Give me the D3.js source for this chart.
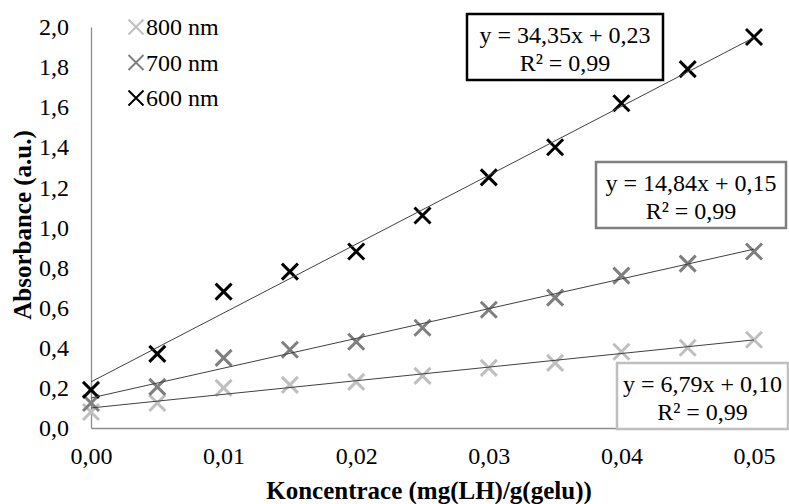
<!DOCTYPE html>
<html>
<head>
<meta charset="utf-8">
<script src="https://cdn.jsdelivr.net/npm/d3@7"></script>
<style>
  html, body { margin: 0; padding: 0; background: #fff; }
  svg { display: block; }
</style>
</head>
<body>
<svg id="chart" width="789" height="504"></svg>
<script>
// ---- data ----
const concentrations = [0, 0.005, 0.01, 0.015, 0.02, 0.025, 0.03, 0.035, 0.04, 0.045, 0.05];
const seriesNames = ["800 nm", "700 nm", "600 nm"];
const abs800 = [0.08, 0.125, 0.20, 0.215, 0.23, 0.26, 0.30, 0.325, 0.38, 0.40, 0.44];
const abs700 = [0.125, 0.205, 0.35, 0.39, 0.43, 0.50, 0.59, 0.65, 0.76, 0.82, 0.88];
const abs600 = [0.19, 0.37, 0.68, 0.78, 0.88, 1.06, 1.25, 1.40, 1.62, 1.79, 1.95];
const slopes = [6.79, 14.84, 34.35];
const intercepts = [0.10, 0.15, 0.23];
const rSquared = [0.99, 0.99, 0.99];
const xTicks = [0, 0.01, 0.02, 0.03, 0.04, 0.05];
const yTicks = [0, 0.2, 0.4, 0.6, 0.8, 1.0, 1.2, 1.4, 1.6, 1.8, 2.0];
const xTitle = "Koncentrace (mg(LH)/g(gelu))";
const yTitle = "Absorbance (a.u.)";

// ---- styles ----
const FONT = "'Liberation Serif', 'Times New Roman', serif";
const colors = ["#bfbfbf", "#7f7f7f", "#000000"];
const values = [abs800, abs700, abs600];
const boxPos = [
  {x: 617, y: 363, w: 171, h: 66},
  {x: 596, y: 162, w: 190, h: 66},
  {x: 467, y: 14, w: 196, h: 66}
];

const locale = d3.formatLocale({decimal: ",", thousands: " ", grouping: [3], currency: ["", ""]});
const fx = locale.format(".2f");
const fy = locale.format(".1f");

const svg = d3.select("#chart");
const x = d3.scaleLinear().domain([0, 0.05]).range([91, 754]);
const y = d3.scaleLinear().domain([0, 2]).range([428, 27]);

// axes
const xAxis = svg.append("g").attr("transform", "translate(0,428)")
  .call(d3.axisBottom(x).tickValues(xTicks).tickSize(0).tickPadding(19).tickFormat(fx));
const yAxis = svg.append("g").attr("transform", "translate(91,0)")
  .call(d3.axisLeft(y).tickValues(yTicks).tickSize(0).tickPadding(22).tickFormat(fy));
[xAxis, yAxis].forEach(g => {
  g.attr("font-family", null).attr("font-size", null);
  g.select(".domain").attr("stroke", "#8c8c8c").attr("stroke-width", 1.3);
  g.selectAll("text").style("font-family", FONT).style("font-size", "24px").attr("fill", "#000");
});
// extend x axis line under last box
svg.append("line").attr("x1", x(0.05)).attr("x2", 775).attr("y1", 428).attr("y2", 428)
  .attr("stroke", "#8c8c8c").attr("stroke-width", 1.3);

// titles
svg.append("text").attr("x", 429).attr("y", 499).attr("text-anchor", "middle")
  .style("font-family", FONT).style("font-weight", "bold").style("font-size", "25px").text(xTitle);
svg.append("text").attr("transform", "translate(31,225) rotate(-90)").attr("text-anchor", "middle")
  .style("font-family", FONT).style("font-weight", "bold").style("font-size", "25px").text(yTitle);

// markers
function cross(g, cx, cy, r, color, sw) {
  g.append("path")
    .attr("d", `M${cx - r},${cy - r}L${cx + r},${cy + r}M${cx - r},${cy + r}L${cx + r},${cy - r}`)
    .attr("stroke", color).attr("stroke-width", sw).attr("fill", "none");
}
values.forEach((vals, i) => {
  const g = svg.append("g");
  vals.forEach((v, j) => cross(g, x(concentrations[j]), y(v), 8, colors[i], 3));
});

// trendlines
const line = d3.line().x(d => x(d[0])).y(d => y(d[1]));
slopes.forEach((m, i) => {
  const pts = [0, 0.05].map(c => [c, m * c + intercepts[i]]);
  svg.append("path").attr("d", line(pts)).attr("stroke", "#404040").attr("stroke-width", 1).attr("fill", "none");
});

// equation boxes
slopes.forEach((m, i) => {
  const b = boxPos[i];
  const g = svg.append("g");
  g.append("rect").attr("x", b.x).attr("y", b.y).attr("width", b.w).attr("height", b.h)
    .attr("fill", "#fff").attr("stroke", colors[i]).attr("stroke-width", 2.5);
  const cx = b.x + b.w / 2;
  g.append("text").attr("x", cx).attr("y", b.y + 29).attr("text-anchor", "middle")
    .style("font-family", FONT).style("font-size", "24px")
    .text(`y = ${fx(m)}x + ${fx(intercepts[i])}`);
  g.append("text").attr("x", cx).attr("y", b.y + 57).attr("text-anchor", "middle")
    .style("font-family", FONT).style("font-size", "24px")
    .text(`R² = ${fx(rSquared[i])}`);
});

// legend
seriesNames.forEach((name, i) => {
  const cy = 27 + i * 35.5;
  const g = svg.append("g");
  cross(g, 136, cy, 7.5, colors[i], 2);
  g.append("text").attr("x", 146).attr("y", cy + 8)
    .style("font-family", FONT).style("font-size", "24px").text(name);
});
</script>
</body>
</html>
